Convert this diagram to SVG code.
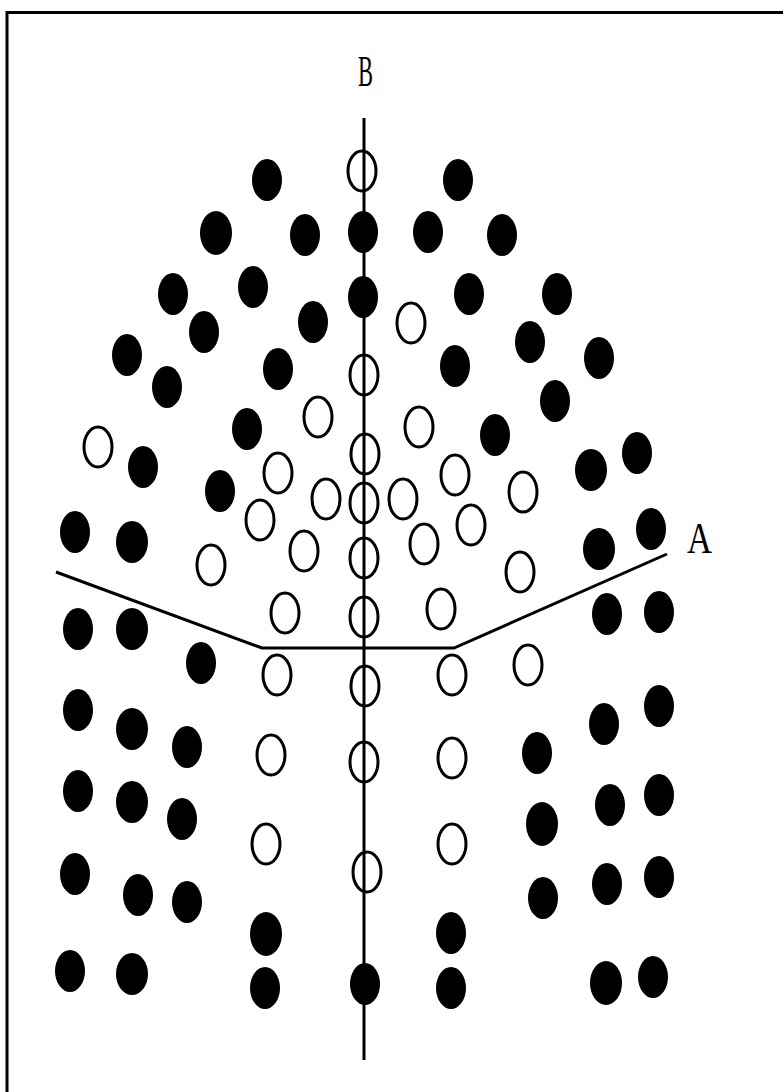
<svg xmlns="http://www.w3.org/2000/svg" width="783" height="1092" viewBox="0 0 783 1092">
<style>
.f{fill:#000}
.o{fill:none;stroke:#000;stroke-width:3}
.ln{fill:none;stroke:#000;stroke-width:3}
.t{font-family:"Liberation Serif",serif;font-size:44px;fill:#000}
</style>
<rect width="783" height="1092" fill="#fff"/>
<path d="M7,1092 V12.5 H783" fill="none" stroke="#000" stroke-width="3"/>
<g id="connectors">
<line class="ln" x1="364" y1="118" x2="364" y2="1060" stroke-width="2.5"/>
<polyline class="ln" points="56,572 262,648 454,648 667,554" stroke-width="4"/>
</g>
<g id="labels">
<text class="t" x="358" y="86" textLength="15" lengthAdjust="spacingAndGlyphs">B</text>
<text class="t" x="687" y="553" textLength="25" lengthAdjust="spacingAndGlyphs">A</text>
</g>
<g id="filled">
<ellipse class="f" cx="267" cy="180" rx="15" ry="21"/>
<ellipse class="f" cx="458" cy="180" rx="15" ry="21"/>
<ellipse class="f" cx="216" cy="233" rx="16" ry="22"/>
<ellipse class="f" cx="305" cy="235" rx="15" ry="21"/>
<ellipse class="f" cx="363" cy="232" rx="15" ry="21"/>
<ellipse class="f" cx="428" cy="232" rx="15" ry="21"/>
<ellipse class="f" cx="502" cy="235" rx="15" ry="21"/>
<ellipse class="f" cx="173" cy="294" rx="15" ry="21"/>
<ellipse class="f" cx="253" cy="287" rx="15" ry="21"/>
<ellipse class="f" cx="363" cy="297" rx="15" ry="21"/>
<ellipse class="f" cx="469" cy="294" rx="15" ry="21"/>
<ellipse class="f" cx="557" cy="294" rx="15" ry="21"/>
<ellipse class="f" cx="204" cy="332" rx="15" ry="21"/>
<ellipse class="f" cx="313" cy="322" rx="15" ry="21"/>
<ellipse class="f" cx="530" cy="342" rx="15" ry="21"/>
<ellipse class="f" cx="599" cy="358" rx="15" ry="21"/>
<ellipse class="f" cx="127" cy="355" rx="15" ry="21"/>
<ellipse class="f" cx="278" cy="369" rx="15" ry="21"/>
<ellipse class="f" cx="455" cy="366" rx="15" ry="21"/>
<ellipse class="f" cx="167" cy="387" rx="15" ry="21"/>
<ellipse class="f" cx="555" cy="401" rx="15" ry="21"/>
<ellipse class="f" cx="247" cy="429" rx="15" ry="21"/>
<ellipse class="f" cx="495" cy="435" rx="15" ry="21"/>
<ellipse class="f" cx="143" cy="467" rx="15" ry="21"/>
<ellipse class="f" cx="591" cy="470" rx="16" ry="21"/>
<ellipse class="f" cx="637" cy="453" rx="15" ry="21"/>
<ellipse class="f" cx="220" cy="491" rx="15" ry="21"/>
<ellipse class="f" cx="75" cy="532" rx="15" ry="21"/>
<ellipse class="f" cx="132" cy="542" rx="16" ry="21"/>
<ellipse class="f" cx="651" cy="529" rx="15" ry="21"/>
<ellipse class="f" cx="599" cy="549" rx="16" ry="21"/>
<ellipse class="f" cx="78" cy="629" rx="15" ry="21"/>
<ellipse class="f" cx="132" cy="629" rx="16" ry="21"/>
<ellipse class="f" cx="607" cy="614" rx="15" ry="21"/>
<ellipse class="f" cx="659" cy="612" rx="15" ry="21"/>
<ellipse class="f" cx="201" cy="663" rx="15" ry="21"/>
<ellipse class="f" cx="78" cy="710" rx="15" ry="21"/>
<ellipse class="f" cx="132" cy="729" rx="16" ry="21"/>
<ellipse class="f" cx="187" cy="747" rx="15" ry="21"/>
<ellipse class="f" cx="537" cy="753" rx="15" ry="21"/>
<ellipse class="f" cx="604" cy="724" rx="15" ry="21"/>
<ellipse class="f" cx="659" cy="706" rx="15" ry="21"/>
<ellipse class="f" cx="78" cy="791" rx="15" ry="21"/>
<ellipse class="f" cx="132" cy="802" rx="16" ry="21"/>
<ellipse class="f" cx="182" cy="819" rx="15" ry="21"/>
<ellipse class="f" cx="542" cy="824" rx="16" ry="22"/>
<ellipse class="f" cx="610" cy="805" rx="15" ry="21"/>
<ellipse class="f" cx="659" cy="795" rx="15" ry="21"/>
<ellipse class="f" cx="75" cy="874" rx="15" ry="21"/>
<ellipse class="f" cx="138" cy="895" rx="15" ry="21"/>
<ellipse class="f" cx="187" cy="902" rx="15" ry="21"/>
<ellipse class="f" cx="543" cy="898" rx="15" ry="21"/>
<ellipse class="f" cx="607" cy="884" rx="15" ry="21"/>
<ellipse class="f" cx="659" cy="877" rx="15" ry="21"/>
<ellipse class="f" cx="266" cy="934" rx="16" ry="22"/>
<ellipse class="f" cx="451" cy="933" rx="15" ry="21"/>
<ellipse class="f" cx="70" cy="971" rx="15" ry="21"/>
<ellipse class="f" cx="132" cy="974" rx="16" ry="21"/>
<ellipse class="f" cx="265" cy="988" rx="15" ry="21"/>
<ellipse class="f" cx="365" cy="984" rx="15" ry="21"/>
<ellipse class="f" cx="451" cy="988" rx="15" ry="21"/>
<ellipse class="f" cx="606" cy="983" rx="16" ry="22"/>
<ellipse class="f" cx="653" cy="977" rx="15" ry="21"/>
</g>
<g id="open">
<ellipse class="o" cx="362" cy="171" rx="14" ry="20"/>
<ellipse class="o" cx="411" cy="323" rx="14" ry="20"/>
<ellipse class="o" cx="364" cy="375" rx="14" ry="20"/>
<ellipse class="o" cx="318" cy="417" rx="14" ry="20"/>
<ellipse class="o" cx="419" cy="427" rx="14" ry="20"/>
<ellipse class="o" cx="98" cy="447" rx="14" ry="20"/>
<ellipse class="o" cx="365" cy="454" rx="14" ry="20"/>
<ellipse class="o" cx="278" cy="473" rx="14" ry="20"/>
<ellipse class="o" cx="455" cy="475" rx="14" ry="20"/>
<ellipse class="o" cx="326" cy="499" rx="14" ry="20"/>
<ellipse class="o" cx="364" cy="503" rx="14" ry="20"/>
<ellipse class="o" cx="403" cy="499" rx="14" ry="20"/>
<ellipse class="o" cx="523" cy="492" rx="14" ry="20"/>
<ellipse class="o" cx="260" cy="520" rx="14" ry="20"/>
<ellipse class="o" cx="471" cy="525" rx="14" ry="20"/>
<ellipse class="o" cx="304" cy="551" rx="14" ry="20"/>
<ellipse class="o" cx="364" cy="558" rx="14" ry="20"/>
<ellipse class="o" cx="424" cy="544" rx="14" ry="20"/>
<ellipse class="o" cx="211" cy="565" rx="14" ry="20"/>
<ellipse class="o" cx="520" cy="572" rx="14" ry="20"/>
<ellipse class="o" cx="285" cy="613" rx="14" ry="20"/>
<ellipse class="o" cx="364" cy="617" rx="14" ry="20"/>
<ellipse class="o" cx="441" cy="609" rx="14" ry="20"/>
<ellipse class="o" cx="277" cy="675" rx="14" ry="20"/>
<ellipse class="o" cx="365" cy="686" rx="14" ry="20"/>
<ellipse class="o" cx="452" cy="675" rx="14" ry="20"/>
<ellipse class="o" cx="528" cy="665" rx="14" ry="20"/>
<ellipse class="o" cx="271" cy="755" rx="14" ry="20"/>
<ellipse class="o" cx="364" cy="762" rx="14" ry="20"/>
<ellipse class="o" cx="452" cy="758" rx="14" ry="20"/>
<ellipse class="o" cx="266" cy="844" rx="14" ry="20"/>
<ellipse class="o" cx="452" cy="844" rx="14" ry="20"/>
<ellipse class="o" cx="367" cy="872" rx="14" ry="20"/>
</g>
</svg>
